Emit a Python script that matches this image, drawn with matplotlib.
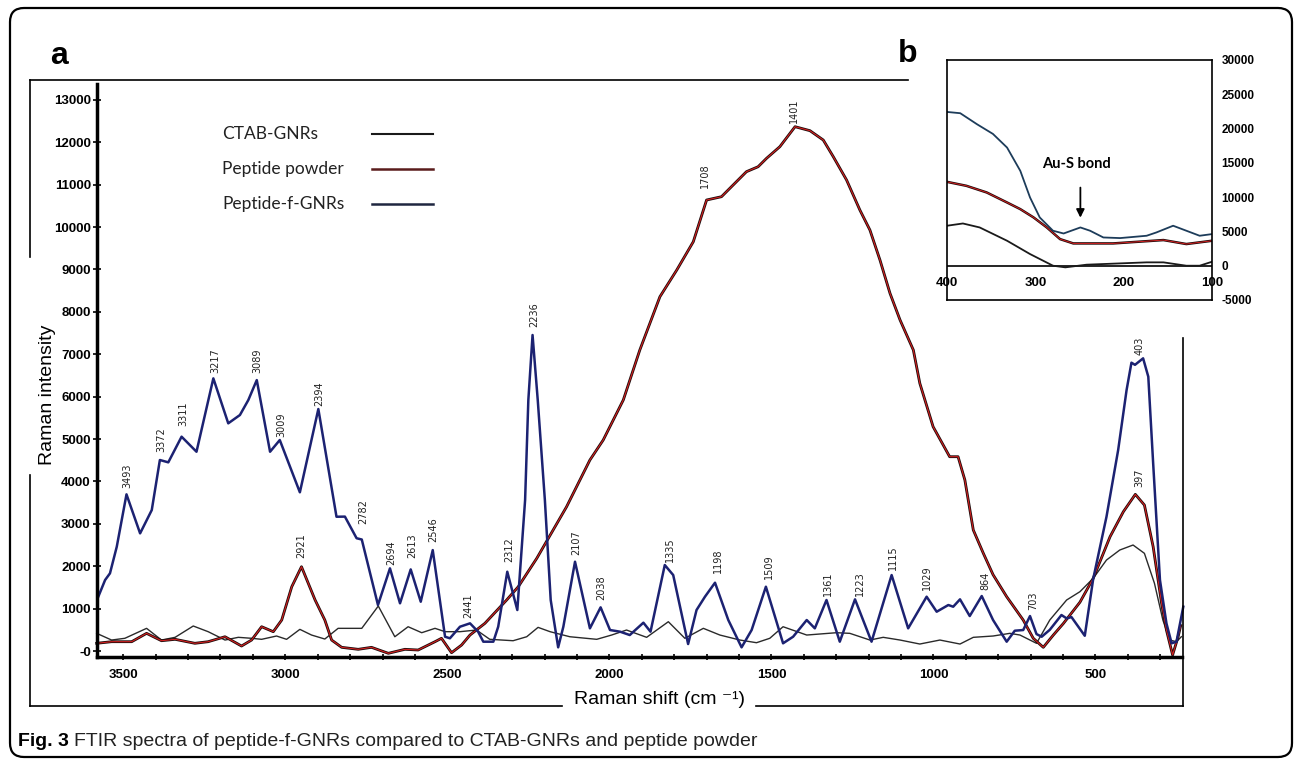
import matplotlib
matplotlib.use("Agg")
import matplotlib.pyplot as plt
from matplotlib.lines import Line2D
from matplotlib.patches import FancyBboxPatch
from matplotlib.transforms import IdentityTransform

W, H = 1295, 764
NARROW = ["Liberation Sans Narrow", "Liberation Sans", "DejaVu Sans"]

# ---- main spectra (Raman shift, intensity) ----
ctab_shift = [3582, 3536, 3495, 3428, 3382, 3340, 3284, 3238, 3186, 3145, 3104, 3073,
              3027, 2996, 2955, 2919, 2878, 2837, 2764, 2713, 2662, 2621, 2579, 2538,
              2507, 2461, 2410, 2369, 2297, 2255, 2220, 2183, 2122, 2039, 1993, 1947,
              1885, 1818, 1767, 1710, 1659, 1597, 1546, 1505, 1464, 1391, 1299, 1258,
              1196, 1155, 1103, 1042, 980, 918, 877, 816, 764, 733, 682, 641, 589, 548,
              507, 466, 425, 384, 349, 318, 292, 271, 250, 235]
ctab_int = [417, 259, 300, 535, 259, 323, 590, 456, 259, 323, 300, 276,
            354, 276, 511, 377, 283, 535, 535, 1061, 337, 573, 432, 535,
            456, 456, 495, 276, 243, 337, 558, 456, 337, 276, 377, 495,
            323, 691, 300, 535, 377, 259, 196, 300, 573, 377, 432, 417,
            259, 323, 259, 165, 259, 165, 323, 354, 417, 377, 182, 731, 1203, 1399,
            1714, 2146, 2382, 2500, 2304, 1597, 731, 259, 220, 337]

powder_shift = [3582, 3536, 3474, 3428, 3382, 3340, 3279, 3238, 3186, 3135, 3104, 3073,
                3037, 3011, 2980, 2950, 2908, 2878, 2857, 2826, 2775, 2734, 2682, 2631,
                2590, 2538, 2518, 2487, 2456, 2430, 2384, 2317, 2281, 2224, 2132, 2060,
                2019, 1957, 1906, 1844, 1792, 1741, 1700, 1654, 1618, 1577, 1541, 1515,
                1474, 1427, 1381, 1340, 1309, 1268, 1227, 1196, 1165, 1134, 1103, 1062,
                1042, 1001, 950, 924, 903, 877, 846, 816, 774, 723, 692, 661, 630, 599,
                548, 507, 455, 414, 377, 349, 322, 296, 281, 262, 245, 237]
powder_int = [182, 220, 220, 417, 243, 276, 182, 220, 337, 118, 259, 573,
              456, 731, 1517, 1988, 1203, 731, 259, 87, 40, 87, -54, 40,
              24, 220, 300, -40, 141, 377, 653, 1203, 1517, 2186, 3403, 4505,
              4976, 5920, 7100, 8356, 8986, 9653, 10637, 10715, 10991, 11305, 11422, 11620,
              11894, 12366, 12272, 12052, 11658, 11108, 10401, 9929, 9222, 8436, 7807, 7099,
              6314, 5290, 4583, 4583, 4033, 2854, 2304, 1800, 1281, 731, 300, 87, 377, 650,
              1150, 1714, 2696, 3285, 3695, 3443, 2460, 1125, 495, -94, 337, 600]

pfg_shift = [3577, 3556, 3541, 3520, 3490, 3448, 3412, 3387, 3361, 3320, 3274, 3222,
             3176, 3140, 3114, 3088, 3047, 3017, 2955, 2898, 2842, 2816, 2780, 2764,
             2714, 2677, 2646, 2613, 2582, 2545, 2507, 2492, 2461, 2430, 2405, 2389,
             2358, 2343, 2315, 2284, 2260, 2250, 2237, 2221, 2199, 2181, 2158, 2142,
             2106, 2060, 2027, 1998, 1967, 1937, 1895, 1873, 1829, 1803, 1757, 1731,
             1705, 1674, 1633, 1592, 1561, 1517, 1464, 1433, 1391, 1366, 1330, 1289,
             1242, 1191, 1129, 1078, 1021, 990, 954, 939, 918, 888, 851, 816, 774, 749,
             723, 702, 682, 666, 641, 605, 589, 574, 533, 507, 466, 430, 404, 389, 378,
             353, 337, 322, 301, 281, 265, 250, 229]
pfg_int = [1281, 1675, 1832, 2460, 3695, 2775, 3325, 4505, 4450, 5055, 4700, 6430,
           5370, 5566, 5920, 6390, 4700, 4976, 3743, 5707, 3167, 3170, 2660, 2630,
           1085, 1950, 1125, 1925, 1163, 2380, 337, 300, 573, 653, 456, 220,
           220, 573, 1870, 967, 3561, 5920, 7453, 5920, 3561, 1203, 87, 573,
           2106, 535, 1030, 495, 456, 377, 668, 456, 2028, 1792, 165, 967,
           1281, 1611, 731, 87, 495, 1517, 182, 337, 731, 535, 1203, 220,
           1219, 220, 1792, 535, 1281, 927, 1085, 1045, 1219, 825, 1297, 731, 220, 479,
           495, 825, 400, 337, 500, 849, 770, 800, 360, 1700, 3167, 4740, 6155, 6800, 6750,
           6903, 6470, 4427, 1675, 653, 182, 220, 1045]

peak_text = ["3493", "3372", "3311", "3217", "3089", "3009", "2394", "2782", "2921",
             "2694", "2613", "2546", "2441", "2312", "2236", "2107", "2038", "1335",
             "1198", "1509", "1361", "1223", "1115", "1029", "864", "703", "1708",
             "1401", "403", "397"]
peak_x = [3488, 3383, 3315, 3217, 3087, 3013, 2896, 2759, 2950, 2674, 2608, 2543,
          2435, 2310, 2233, 2101, 2024, 1813, 1666, 1507, 1327, 1227, 1126, 1019,
          841, 692, 1705, 1431, 365, 365]
peak_y = [3844, 4700, 5307, 6564, 6564, 5054, 5778, 2995, 2186, 2028, 2186, 2578,
          771, 2106, 7649, 2264, 1203, 2106, 1832, 1691, 1297, 1297, 1910, 1439,
          1439, 967, 10913, 12446, 6981, 3875]

y_ticks = [0, 1000, 2000, 3000, 4000, 5000, 6000, 7000, 8000, 9000, 10000, 11000, 12000, 13000]
y_tick_labels = ["-0", "1000", "2000", "3000", "4000", "5000", "6000", "7000", "8000",
                 "9000", "10000", "11000", "12000", "13000"]
x_ticks = [3500, 3000, 2500, 2000, 1500, 1000, 500]
x_minor = list(range(300, 3600, 100))

legend_labels = ["CTAB-GNRs", "Peptide powder", "Peptide-f-GNRs"]
legend_colors = ["#1a1a1a", "#5a1c1c", "#1f2640"]

# ---- inset b (Au-S region) ----
ins_blue_x = [400, 385, 366, 348, 332, 317, 306, 295, 280, 268, 249, 238, 223, 204,
              174, 163, 144, 129, 114, 100]
ins_blue_y = [22426, 22240, 20630, 19220, 17230, 13830, 9950, 7040, 5100, 4700, 5580,
              5100, 4120, 4030, 4370, 4850, 5830, 5100, 4370, 4610]
ins_red_x = [400, 378, 355, 332, 317, 302, 287, 272, 257, 212, 155, 129, 100]
ins_red_y = [12230, 11650, 10680, 9220, 8250, 7040, 5580, 3880, 3250, 3250, 3740, 3160, 3640]
ins_black_x = [400, 382, 363, 332, 306, 280, 266, 242, 174, 155, 129, 114, 100]
ins_black_y = [5830, 6160, 5580, 3640, 1700, 0, -240, 150, 490, 490, 0, 0, 580]
ins_yticks = [-5000, 0, 5000, 10000, 15000, 20000, 25000, 30000]
ins_xticks = [400, 300, 200, 100]

fig = plt.figure(figsize=(W / 100, H / 100), dpi=100)


def fx(x):
    return x / W


def fy(y):
    return 1 - y / H


def fig_line(xs, ys, lw=1.2, color="black"):
    fig.add_artist(Line2D([fx(x) for x in xs], [fy(y) for y in ys], lw=lw,
                          color=color, transform=fig.transFigure))


# outer rounded frame
fig.add_artist(FancyBboxPatch((10, H - 757), 1282, 749,
                              boxstyle="round,pad=0,rounding_size=14",
                              transform=IdentityTransform(), fill=False,
                              lw=1.6, ec="black"))

# panel a frame lines (with gaps behind the axis titles)
fig_line([30, 908], [80, 80])
fig_line([30, 30], [80, 257])
fig_line([30, 30], [475, 706])
fig_line([30, 562], [706, 706])
fig_line([756, 1183], [706, 706])
fig_line([1183, 1183], [338, 706])

# ---- main axes ----
ax = fig.add_axes([fx(97), fy(657), (1182 - 97) / W, (657 - 84) / H])
ax.set_xlim(3581, 233)
ax.set_ylim(-141, 13373)
ax.patch.set_alpha(0)

ax.plot(ctab_shift, ctab_int, color="#2a2a2a", lw=1.0, clip_on=False)
ax.plot(powder_shift, powder_int, color="#1a0a0a", lw=2.0, clip_on=False)
ax.plot(powder_shift, powder_int, color="#d42020", lw=0.8, clip_on=False)
ax.plot(pfg_shift, pfg_int, color="#1c2272", lw=1.8, clip_on=False)

for s, x, y in zip(peak_text, peak_x, peak_y):
    ax.text(x, y, s, rotation=90, ha="center", va="bottom", fontsize=7, color="#222222")

for side in ["top", "right"]:
    ax.spines[side].set_visible(False)
for side in ["left", "bottom"]:
    ax.spines[side].set_linewidth(2.5)

ax.set_yticks(y_ticks)
ax.set_yticklabels(y_tick_labels, fontfamily=NARROW, fontweight="bold", fontsize=9.5)
ax.set_xticks(x_ticks)
ax.set_xticklabels([str(t) for t in x_ticks], fontfamily=NARROW, fontweight="bold", fontsize=9.5)
ax.set_xticks(x_minor, minor=True)
ax.tick_params(axis="y", direction="inout", length=6, width=1.2, pad=1.5)
ax.tick_params(axis="x", which="both", direction="inout", length=5, width=1.2, pad=6)

fig.text(fx(47), fy(395), "Raman intensity", rotation=90, ha="center", va="center",
         fontsize=14, family=["Liberation Sans", "DejaVu Sans"])
fig.text(fx(659), fy(700), "Raman shift (cm \u207b\u00b9)", ha="center", va="center",
         fontsize=14, family=NARROW)

# legend: label on the left, line on the right
for i, (lab, col) in enumerate(zip(legend_labels, legend_colors)):
    yy = 134 + i * 35
    fig.text(fx(222), fy(yy), lab, ha="left", va="center", fontsize=12.5,
             family=["Lato", "DejaVu Sans"], color="#222222")
    fig_line([372, 433], [yy, yy], lw=1.8 if i else 1.5, color=col)

fig.text(fx(50), fy(56), "a", fontsize=23, fontweight="bold", ha="left", va="center",
         family=["Liberation Sans", "DejaVu Sans"])
fig.text(fx(898), fy(54), "b", fontsize=23, fontweight="bold", ha="left", va="center",
         family=["Liberation Sans", "DejaVu Sans"])

# ---- inset ----
ins = fig.add_axes([fx(947), fy(300), 265 / W, 240 / H])
ins.set_xlim(400, 100)
ins.set_ylim(-5000, 30000)
ins.axhline(0, color="black", lw=1.2)
ins.plot(ins_black_x, ins_black_y, color="#1a1a1a", lw=1.3)
ins.plot(ins_red_x, ins_red_y, color="#1a0a0a", lw=1.8)
ins.plot(ins_red_x, ins_red_y, color="#d42020", lw=0.7)
ins.plot(ins_blue_x, ins_blue_y, color="#1d3c5a", lw=1.3)
for sp in ins.spines.values():
    sp.set_linewidth(1.2)
ins.set_xticks([])
ins.yaxis.tick_right()
ins.set_yticks(ins_yticks)
ins.set_yticklabels([str(t) for t in ins_yticks], fontfamily=NARROW, fontweight="bold", fontsize=8.5)
ins.tick_params(axis="y", length=0, pad=7)
for t in ins_xticks:
    ins.text(t, -2500, str(t), ha="center", va="center", fontsize=9.5,
             family=NARROW, fontweight="bold", clip_on=False)
ins.text(254, 14850, "Au-S bond", ha="center", va="center", fontsize=10.5,
         fontweight="bold", family=["Lato", "DejaVu Sans"])
ins.annotate("", xy=(249, 6600), xytext=(249, 11800),
             arrowprops=dict(arrowstyle="-|>", color="black", lw=1.3, mutation_scale=12))

# ---- caption ----
fig.canvas.draw()
cap1 = fig.text(fx(18), fy(742), "Fig. 3", fontsize=14, fontweight="bold", ha="left",
                va="center", family=NARROW)
bb = cap1.get_window_extent(renderer=fig.canvas.get_renderer())
fig.text((bb.x1 + 5) / W, fy(742), "FTIR spectra of peptide-f-GNRs compared to CTAB-GNRs and peptide powder",
         fontsize=14, ha="left", va="center", family=NARROW, color="#222222")

fig.savefig("out.png", dpi=100)
